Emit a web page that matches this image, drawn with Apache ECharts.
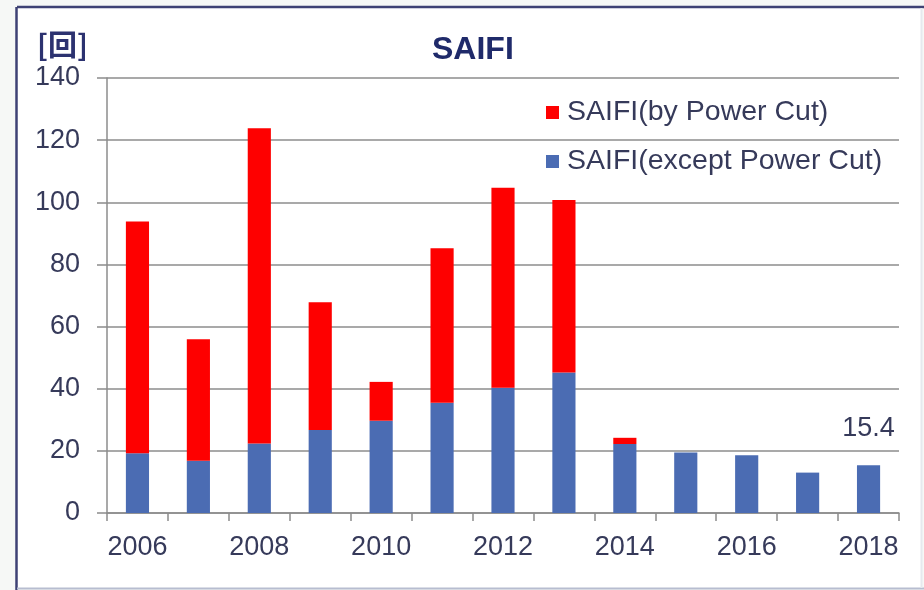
<!DOCTYPE html>
<html>
<head>
<meta charset="utf-8">
<script src="https://cdn.jsdelivr.net/npm/echarts@6/dist/echarts.min.js"></script>
<style>
html,body{margin:0;padding:0;background:#f6f8f6;}
#chart{width:924px;height:590px;}
</style>
</head>
<body>
<div id="chart"></div>
<script>
var categories = ['2006','2007','2008','2009','2010','2011','2012','2013','2014','2015','2016','2017','2018'];
var exceptPowerCut = [19.2, 16.8, 22.4, 26.7, 29.7, 35.5, 40.3, 45.2, 22.2, 19.5, 18.6, 13.0, 15.4];
var byPowerCut = [74.6, 39.1, 101.4, 41.1, 12.5, 49.7, 64.4, 55.5, 2.0, 0, 0, 0, 0];
var seriesNames = ['SAIFI(by Power Cut)', 'SAIFI(except Power Cut)'];
var labelIndex = 12;

var navy = '#2c3270';
var txt = '#363a5a';
var font = '"Liberation Sans", Arial, sans-serif';

var chart = echarts.init(document.getElementById('chart'), null, {renderer: 'canvas'});

var blueData = exceptPowerCut.map(function (v, i) {
  if (i === labelIndex) {
    return {value: v, label: {show: true, position: 'top', distance: 23, formatter: '{c}', fontSize: 27, color: txt, fontFamily: font}};
  }
  return v;
});

chart.setOption({
  backgroundColor: 'transparent',
  animation: false,
  graphic: [
    {type: 'rect', shape: {x: 17, y: 8, width: 905, height: 580}, style: {fill: '#ffffff'}, z: -10},
    {type: 'line', shape: {x1: 17, y1: 7, x2: 924, y2: 7}, style: {stroke: '#3e4274', lineWidth: 2.5}},
    {type: 'line', shape: {x1: 16.5, y1: 7, x2: 16.5, y2: 590}, style: {stroke: '#3e4274', lineWidth: 2.5}},
    {type: 'line', shape: {x1: 17, y1: 588.5, x2: 924, y2: 588.5}, style: {stroke: '#b7bdd0', lineWidth: 2}},
    {type: 'line', shape: {x1: 921.5, y1: 8, x2: 921.5, y2: 588}, style: {stroke: '#e6e9ee', lineWidth: 2}},
    {type: 'text', left: 37, top: 30, style: {text: '[回]', fontSize: 29, fontWeight: 'bold', fill: navy, fontFamily: '"Noto Sans CJK JP", "Noto Sans CJK SC", sans-serif'}}
  ],
  title: {
    text: 'SAIFI',
    left: 427,
    top: 29,
    textStyle: {fontSize: 32, fontWeight: 'bold', color: '#1f2a6a', fontFamily: font}
  },
  legend: {
    orient: 'vertical',
    left: 541,
    top: 93,
    itemWidth: 13,
    itemHeight: 13,
    itemGap: 20,
    icon: 'rect',
    data: seriesNames,
    textStyle: {fontSize: 28.5, color: txt, fontFamily: font, padding: [0, 0, 0, 3]}
  },
  grid: {left: 107, right: 25, top: 78, bottom: 77, containLabel: false},
  xAxis: {
    type: 'category',
    data: categories,
    boundaryGap: true,
    axisLine: {lineStyle: {color: '#8c8c8c', width: 1.5}},
    axisTick: {show: true, interval: 0, length: 8, lineStyle: {color: '#8c8c8c', width: 1.5}},
    axisLabel: {interval: 1, fontSize: 27, color: txt, fontFamily: font, margin: 21}
  },
  yAxis: {
    type: 'value',
    min: 0,
    max: 140,
    interval: 20,
    axisLine: {show: true, lineStyle: {color: '#8c8c8c', width: 1.5}},
    axisTick: {show: true, length: 10, lineStyle: {color: '#8c8c8c', width: 1.5}},
    splitLine: {show: true, lineStyle: {color: '#8c8c8c', width: 1.5}},
    axisLabel: {fontSize: 27, color: txt, fontFamily: font, margin: 27}
  },
  series: [
    {
      name: seriesNames[1],
      type: 'bar',
      stack: 'total',
      barWidth: '38%',
      itemStyle: {color: '#4b6cb3'},
      data: blueData
    },
    {
      name: seriesNames[0],
      type: 'bar',
      stack: 'total',
      barWidth: '38%',
      itemStyle: {color: '#fe0000'},
      data: byPowerCut
    }
  ]
});
</script>
</body>
</html>
